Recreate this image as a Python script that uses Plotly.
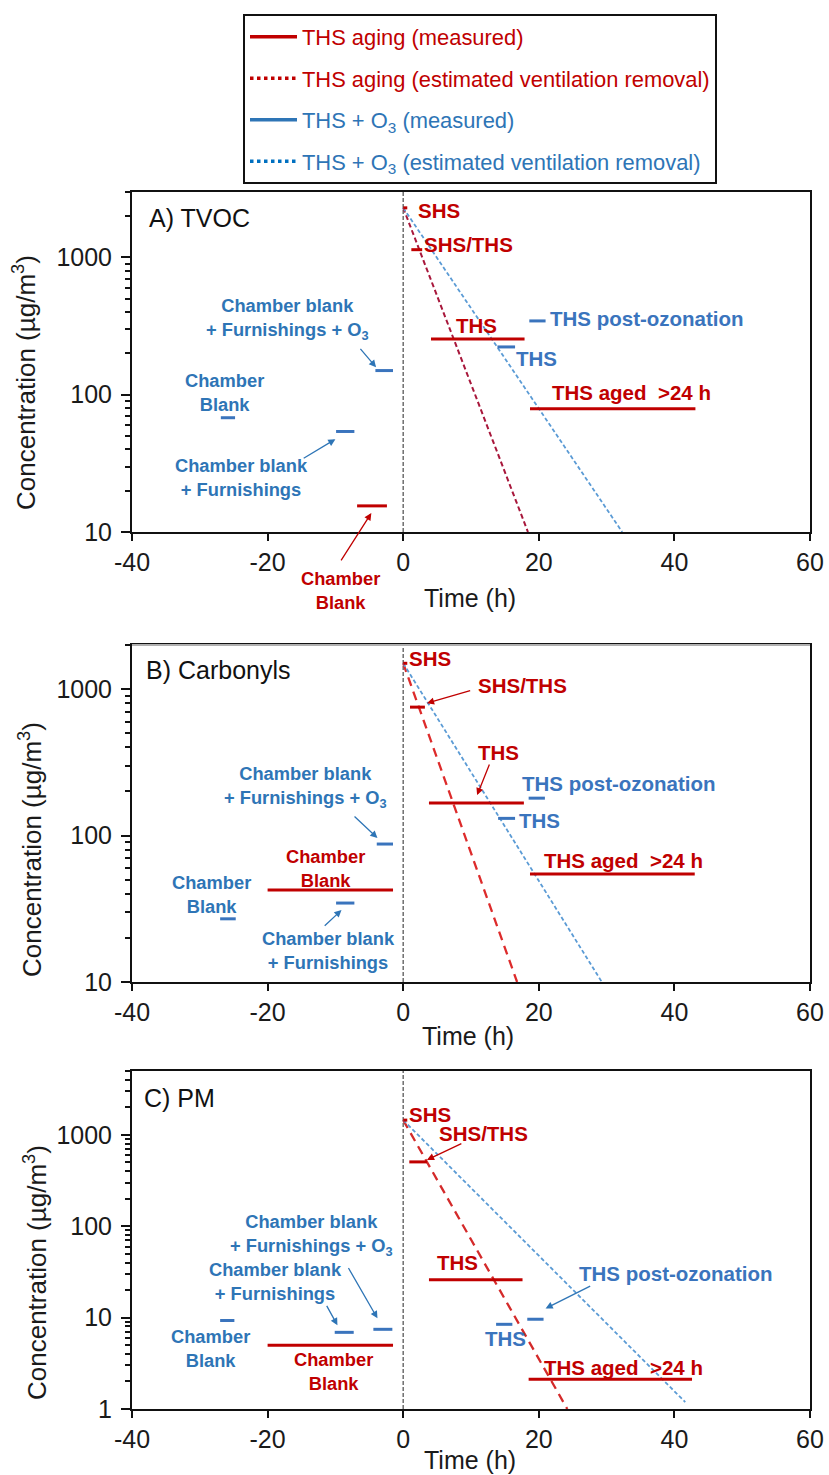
import math
import plotly.graph_objects as go

# ---------------- data ----------------
time_ticks = [-40, -20, 0, 20, 40, 60]

# Panel A (TVOC)
a_red_x0 = [-6.8, 0.0, 1.2, 4.1, 18.7]
a_red_x1 = [-2.4, 0.6, 2.8, 17.9, 43.1]
a_red_y = [15.5, 2300, 1140, 255, 79]
a_blue_x0 = [-26.9, -9.9, -4.1, 13.9, 18.6]
a_blue_x1 = [-24.8, -7.2, -1.5, 16.5, 21.0]
a_blue_y = [68, 54, 150, 223, 345]
a_redvent_t = [0, 18.4]
a_redvent_y = [2300, 10]
a_bluevent_t = [0, 32.3]
a_bluevent_y = [2300, 10]

# Panel B (Carbonyls)
b_red_x0 = [-20.0, 0.0, 1.0, 3.8, 18.7]
b_red_x1 = [-1.5, 0.6, 3.2, 17.8, 43.0]
b_red_y = [42.5, 1500, 753, 167, 54.6]
b_blue_x0 = [-27.0, -9.9, -3.9, 14.0, 18.5]
b_blue_x1 = [-24.7, -7.2, -1.5, 16.5, 20.9]
b_blue_y = [27, 34.6, 87.5, 131, 180]
b_redvent_t = [0, 16.8]
b_redvent_y = [1500, 10]
b_bluevent_t = [0, 29.3]
b_bluevent_y = [1500, 10]

# Panel C (PM)
c_red_x0 = [-20.0, 0.0, 0.9, 3.8, 18.5]
c_red_x1 = [-1.5, 0.6, 3.5, 17.6, 42.6]
c_red_y = [5.0, 1450, 506, 26, 2.12]
c_blue_x0 = [-27.0, -10.1, -4.4, 13.7, 18.3]
c_blue_x1 = [-24.9, -7.3, -1.6, 16.1, 20.7]
c_blue_y = [9.3, 6.9, 7.45, 8.45, 9.6]
c_redvent_t = [0, 24.2]
c_redvent_y = [1450, 1]
c_bluevent_t = [0, 41.6]
c_bluevent_y = [1450, 1.19]

y_ranges = {"A": (10, 3000), "B": (10, 2000), "C": (1, 5000)}

# ---------------- style ----------------
RED = "#c00000"
BLUE = "#3a74bd"
LBLUE = "#5b9bd5"
TBLUE = "#2e75b6"
FONT = "Arial, Liberation Sans, sans-serif"
OFF = 0  # page body margin removed by post_script
W, H = 829, 1475

def fx(px):
    return (px - OFF) / W

def fy(py):
    return 1 - (py - OFF) / H

fig = go.Figure()

def segs(x0, x1, y):
    xs, ys = [], []
    for a, b, v in zip(x0, x1, y):
        xs += [a, b, None]
        ys += [v, v, None]
    return xs, ys

panels = [
    ("A", "x", "y", a_red_x0, a_red_x1, a_red_y, a_blue_x0, a_blue_x1, a_blue_y,
     a_redvent_t, a_redvent_y, a_bluevent_t, a_bluevent_y, "#a8173b", "5px,3px", 2),
    ("B", "x2", "y2", b_red_x0, b_red_x1, b_red_y, b_blue_x0, b_blue_x1, b_blue_y,
     b_redvent_t, b_redvent_y, b_bluevent_t, b_bluevent_y, "#dd2b2b", "9px,6px", 2.3),
    ("C", "x3", "y3", c_red_x0, c_red_x1, c_red_y, c_blue_x0, c_blue_x1, c_blue_y,
     c_redvent_t, c_redvent_y, c_bluevent_t, c_bluevent_y, "#d42a2a", "9px,6px", 2.3),
]

for (p, xa, ya, rx0, rx1, ry, bx0, bx1, by, rvt, rvy, bvt, bvy, rvcol, rvdash, rvw) in panels:
    fig.add_trace(go.Scatter(x=rvt, y=rvy, mode="lines", xaxis=xa, yaxis=ya, showlegend=False,
                             line=dict(color=rvcol, width=rvw, dash=rvdash), hoverinfo="skip"))
    fig.add_trace(go.Scatter(x=bvt, y=bvy, mode="lines", xaxis=xa, yaxis=ya, showlegend=False,
                             line=dict(color=LBLUE, width=1.8, dash="4px,2.5px"), hoverinfo="skip"))
    xs, ys = segs(rx0, rx1, ry)
    fig.add_trace(go.Scatter(x=xs, y=ys, mode="lines", xaxis=xa, yaxis=ya, showlegend=False,
                             line=dict(color=RED, width=3), connectgaps=False))
    xs, ys = segs(bx0, bx1, by)
    fig.add_trace(go.Scatter(x=xs, y=ys, mode="lines", xaxis=xa, yaxis=ya, showlegend=False,
                             line=dict(color=BLUE, width=3), connectgaps=False))

# legend-only traces
legend_items = [
    ("THS aging (measured)", RED, "solid", RED),
    ("THS aging (estimated ventilation removal)", RED, "dot", RED),
    ("THS + O<sub>3</sub> (measured)", TBLUE, "solid", TBLUE),
    ("THS + O<sub>3</sub> (estimated ventilation removal)", "#0070c0", "dot", TBLUE),
]
for i, (name, col, dash, tcol) in enumerate(legend_items):
    fig.add_trace(go.Scatter(x=[None], y=[None], mode="lines", xaxis="x", yaxis="y",
                             name=f'<span style="color:{tcol}">{name}</span>',
                             legendgroup=f"g{i}", showlegend=True,
                             line=dict(color=col, width=3.5, dash=dash)))

# ---------------- axes ----------------
xdom = [fx(132), fx(810)]
ydoms = {"A": [fy(532), fy(192)], "B": [fy(982), fy(645)], "C": [fy(1409), fy(1071)]}
axnames = {"A": ("xaxis", "yaxis", "x", "y"), "B": ("xaxis2", "yaxis2", "x2", "y2"), "C": ("xaxis3", "yaxis3", "x3", "y3")}

layout_axes = {}
for p in "ABC":
    xk, yk, xr, yr = axnames[p]
    lo, hi = y_ranges[p]
    decs = [10 ** k for k in range(int(round(math.log10(lo))), int(math.floor(math.log10(hi))) + 1)]
    layout_axes[xk] = dict(domain=xdom, anchor=yr, range=[time_ticks[0], time_ticks[-1]],
                           tickvals=time_ticks, ticktext=[str(t) for t in time_ticks],
                           ticks="outside", ticklen=7, tickwidth=2,
                           tickcolor="#111", showline=True, linecolor="#111", linewidth=2,
                           mirror=True, showgrid=False, zeroline=False, automargin=False,
                           tickfont=dict(family=FONT, size=25, color="#1a1a1a"),
                           ticklabelstandoff=0)
    layout_axes[yk] = dict(domain=ydoms[p], anchor=xr, type="log",
                           range=[math.log10(lo), math.log10(hi)],
                           tickvals=decs, ticktext=[str(d) for d in decs],
                           ticks="outside", ticklen=9, tickwidth=2, tickcolor="#111",
                           minor=dict(ticks="outside", ticklen=5, tickwidth=1.5,
                                      tickcolor="#111", dtick="D1", showgrid=False),
                           showline=True, linecolor="#111", linewidth=2, mirror=True,
                           showgrid=False, zeroline=False, automargin=False,
                           tickfont=dict(family=FONT, size=25, color="#1a1a1a"),
                           ticklabelstandoff=4)

# ---------------- annotations ----------------
ann = []

def lbl(p, x, y, text, color, size=20.5, xanchor="left", bold=True):
    _, _, xr, yr = axnames[p]
    lo, hi = y_ranges[p]
    frac = (math.log10(y) - math.log10(lo)) / (math.log10(hi) - math.log10(lo))
    t = f"<b>{text}</b>" if bold else text
    ann.append(dict(xref=xr, yref=f"{yr} domain", x=x, y=frac, text=t, showarrow=False,
                    xanchor=xanchor, yanchor="middle", align="center",
                    font=dict(family=FONT, size=size, color=color)))

def arrow(p, tx, ty, hx, hy, color):
    _, _, xr, yr = axnames[p]
    ann.append(dict(xref=xr, yref=yr, axref=xr, ayref=yr, x=hx, y=math.log10(hy),
                    ax=tx, ay=math.log10(ty), text="", showarrow=True, arrowhead=2,
                    arrowsize=1.1, arrowwidth=1.3, arrowcolor=color, standoff=0))

CB = "Chamber blank<br>+ Furnishings + O<sub>3</sub>"
CF = "Chamber blank<br>+ Furnishings"
CH = "Chamber<br>Blank"
AGED = "THS aged\u00a0 >24 h"
LS = 18.3

# Panel A
lbl("A", -37.8, 10 ** 3.29, "A) TVOC", "#111", size=25, bold=False)
lbl("A", 1.9, 10 ** 3.342, "SHS", RED)
lbl("A", 2.8, 10 ** 3.095, "SHS/THS", RED)
lbl("A", 7.5, 10 ** 2.505, "THS", RED)
lbl("A", 21.3, 10 ** 2.556, "THS post-ozonation", BLUE)
lbl("A", 16.4, 10 ** 2.265, "THS", BLUE)
lbl("A", 21.7, 10 ** 2.018, AGED, RED)
lbl("A", -17.0, 10 ** 2.549, CB, TBLUE, size=LS, xanchor="center")
lbl("A", -26.4, 10 ** 2.018, CH, TBLUE, size=LS, xanchor="center")
lbl("A", -23.8, 10 ** 1.40, CF, TBLUE, size=LS, xanchor="center")
lbl("A", -9.3, 10 ** 0.571, CH, RED, size=LS, xanchor="center")
arrow("A", -9.3, 10 ** 0.782, -4.7, 10 ** 1.138, RED)
arrow("A", -14.9, 10 ** 1.531, -10.0, 10 ** 1.676, TBLUE)
arrow("A", -6.5, 10 ** 2.345, -4.0, 10 ** 2.2, TBLUE)

# Panel B
lbl("B", -38.2, 10 ** 3.13, "B) Carbonyls", "#111", size=25, bold=False)
lbl("B", 0.6, 10 ** 3.212, "SHS", RED)
lbl("B", 10.7, 10 ** 3.027, "SHS/THS", RED)
arrow("B", 10.1, 10 ** 2.993, 3.5, 10 ** 2.904, RED)
lbl("B", 10.7, 10 ** 2.57, "THS", RED)
arrow("B", 12.8, 10 ** 2.495, 10.9, 10 ** 2.276, RED)
lbl("B", 17.3, 10 ** 2.358, "THS post-ozonation", BLUE)
lbl("B", 16.8, 10 ** 2.106, "THS", BLUE)
lbl("B", 20.4, 10 ** 1.833, AGED, RED)
lbl("B", -14.4, 10 ** 2.331, CB, TBLUE, size=LS, xanchor="center")
arrow("B", -7.4, 10 ** 2.14, -3.8, 10 ** 1.983, TBLUE)
lbl("B", -11.5, 10 ** 1.778, CH, RED, size=LS, xanchor="center")
lbl("B", -28.3, 10 ** 1.597, CH, TBLUE, size=LS, xanchor="center")
lbl("B", -11.0, 10 ** 1.218, CF, TBLUE, size=LS, xanchor="center")
arrow("B", -11.8, 10 ** 1.375, -9.1, 10 ** 1.491, TBLUE)

# Panel C
lbl("C", -38.5, 10 ** 3.40, "C) PM", "#111", size=25, bold=False)
lbl("C", 0.6, 10 ** 3.228, "SHS", RED)
lbl("C", 5.0, 10 ** 3.01, "SHS/THS", RED)
arrow("C", 8.8, 10 ** 2.912, 3.5, 10 ** 2.726, RED)
lbl("C", 4.7, 10 ** 1.603, "THS", RED)
lbl("C", 25.6, 10 ** 1.483, "THS post-ozonation", BLUE)
arrow("C", 27.8, 10 ** 1.352, 21.0, 10 ** 1.101, TBLUE)
lbl("C", 11.7, 10 ** 0.774, "THS", BLUE)
lbl("C", 20.4, 10 ** 0.458, AGED, RED)
lbl("C", -13.5, 10 ** 1.908, CB, TBLUE, size=LS, xanchor="center")
lbl("C", -18.9, 10 ** 1.39, CF, TBLUE, size=LS, xanchor="center")
arrow("C", -11.4, 10 ** 1.145, -9.7, 10 ** 0.916, TBLUE)
arrow("C", -8.2, 10 ** 1.559, -3.8, 10 ** 0.992, TBLUE)
lbl("C", -28.4, 10 ** 0.665, CH, TBLUE, size=LS, xanchor="center")
lbl("C", -10.3, 10 ** 0.409, CH, RED, size=LS, xanchor="center")

# axis titles (paper coordinates)
for (px, py) in [(24, 383), (30, 850), (35, 1273)]:
    ann.append(dict(xref="paper", yref="paper", x=fx(px), y=fy(py), text="Concentration (µg/m<sup>3</sup>)",
                    textangle=-90, showarrow=False, xanchor="center", yanchor="middle",
                    font=dict(family=FONT, size=26, color="#1a1a1a")))
for (px, py) in [(470, 598), (468, 1036), (470, 1460)]:
    ann.append(dict(xref="paper", yref="paper", x=fx(px), y=fy(py), text="Time (h)",
                    showarrow=False, xanchor="center", yanchor="middle",
                    font=dict(family=FONT, size=25, color="#1a1a1a")))

# ---------------- shapes: vertical line at t=0 ----------------
shapes = []
for p in "ABC":
    _, _, xr, yr = axnames[p]
    shapes.append(dict(type="line", xref=xr, yref=f"{yr} domain", x0=0, x1=0, y0=0, y1=1,
                       line=dict(color="#6e6e6e", width=1.5, dash="4px,2px"), layer="below"))
# lighter top border of panel B
shapes.append(dict(type="line", xref="x2 domain", yref="y2 domain", x0=0, x1=1, y0=1, y1=1,
                   line=dict(color="#b0b0b0", width=2), layer="above"))

fig.update_layout(
    width=W, height=H, margin=dict(l=0, r=0, t=0, b=0, autoexpand=False),
    paper_bgcolor="white", plot_bgcolor="white",
    font=dict(family=FONT),
    showlegend=True,
    legend=dict(x=fx(243), y=fy(14), xanchor="left", yanchor="top",
                xref="container", yref="container",
                bordercolor="#111", borderwidth=2, bgcolor="white",
                font=dict(family=FONT, size=21.9), traceorder="grouped", tracegroupgap=10,
                itemwidth=47),
    annotations=ann, shapes=shapes,
    **layout_axes,
)

fig.write_html(
    "out.html",
    config={"displayModeBar": False},
    post_script="document.body.style.margin='0';document.body.style.overflow='hidden';",
)
